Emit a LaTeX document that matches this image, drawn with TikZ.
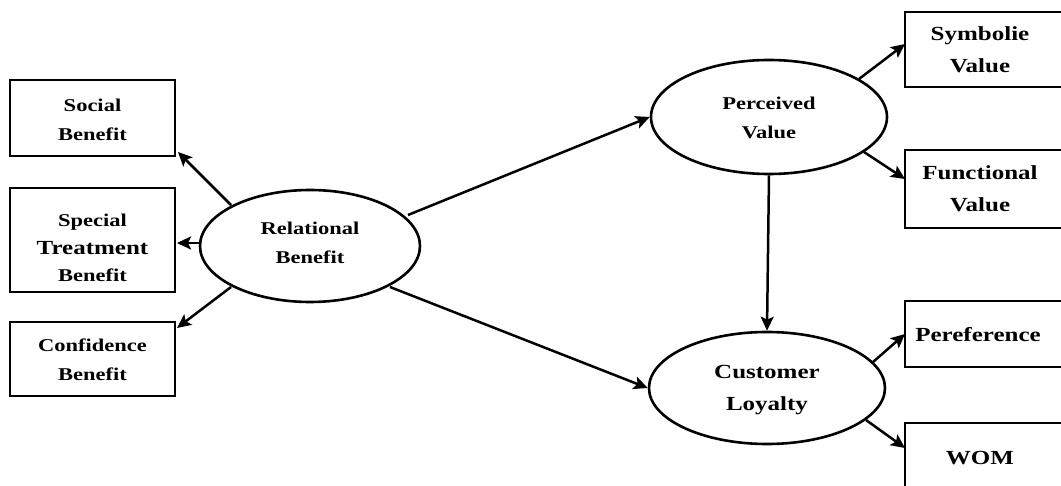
\documentclass[tikz,border=0pt]{standalone}
\usepackage{fontspec}
\setmainfont{Liberation Serif}[FakeStretch=1.25]
\usetikzlibrary{arrows.meta,shapes.geometric}
\begin{document}
\begin{tikzpicture}[x=1pt,y=-1pt,
  box/.style={draw=black,line width=2.4pt,fill=white},
  oval/.style={draw=black,line width=2.6pt,ellipse,inner sep=0pt,fill=white},
  lbl/.style={font=\bfseries\fontsize{18}{29}\selectfont,align=center},
  biglbl/.style={font=\bfseries\fontsize{20}{32}\selectfont,align=center},
  link/.style={line width=2.5pt,-{Stealth[length=14pt,width=13pt,inset=3pt]}}]
\useasboundingbox (0,0) rectangle (1061,486);
\begin{scope}
\clip (0,0) rectangle (1061,486);
% indicator boxes on the left
\draw[box] (10,80) rectangle (175,156);
\draw[box] (10,188) rectangle (175,292);
\draw[box] (10,322) rectangle (175,396);
% indicator boxes on the right, running off the edge
\draw[box] (905,12) rectangle (1075,87);
\draw[box] (905,150) rectangle (1075,228);
\draw[box] (905,301) rectangle (1075,367);
\draw[box] (905,423) rectangle (1075,500);
\end{scope}
% arrow ends at the boxes
\coordinate (sb) at (178,152);
\coordinate (st) at (177,243);
\coordinate (cb) at (177,328);
\coordinate (sv) at (905,44);
\coordinate (fv) at (905,179);
\coordinate (pf) at (905,334);
\coordinate (wm) at (905,448);
% text of the boxes
\node[lbl] (tsb) at (92.5,120) {Social\\Benefit};
\node[lbl,align=center] (tst) at (92.5,248) {\fontsize{18}{28}\selectfont Special\\[-1pt]\fontsize{20}{24}\selectfont Treatment\\[-2pt]\fontsize{18}{22}\selectfont Benefit};
\node[lbl] (tcb) at (92.5,360) {Confidence\\Benefit};
\node[biglbl] (tsv) at (980,50) {Symbolie\\Value};
\node[biglbl] (tfv) at (980,189) {Functional\\Value};
\node[biglbl] (tpf) at (978,335) {Pereference};
\node[biglbl] (twm) at (980,458) {WOM};
% latent variables
\node[oval,minimum width=220pt,minimum height=112pt] (rb) at (310,246) {};
\node[lbl] (trb) at ([yshift=3pt]rb.center) {Relational\\Benefit};
\node[oval,minimum width=236pt,minimum height=114pt] (pv) at (769,117) {};
\node[lbl] (tpv) at ([yshift=-1pt]pv.center) {Perceived\\Value};
\node[oval,minimum width=236pt,minimum height=112pt] (cl) at (767,388) {};
\node[biglbl] (tcl) at ([yshift=-2pt]cl.center) {Customer\\Loyalty};
% arrow starts on the ellipses
\coordinate (rb1) at (231,205);
\coordinate (rb2) at (201,243);
\coordinate (rb3) at (231,287);
\coordinate (rb4) at (408,215);
\coordinate (rb5) at (390,287);
\coordinate (pv1) at (859,79);
\coordinate (pv2) at (864,152);
\coordinate (cl1) at (873,362);
\coordinate (cl2) at (866,420);
% paths
\draw[link] (rb1) -- (sb);
\draw[link] (rb2) -- (st);
\draw[link] (rb3) -- (cb);
\draw[link] (rb4) -- (pv.west);
\draw[link] (rb5) -- (cl.west);
\draw[link] (pv.south) -- (cl.north);
\draw[link] (pv1) -- (sv);
\draw[link] (pv2) -- (fv);
\draw[link] (cl1) -- (pf);
\draw[link] (cl2) -- (wm);
\end{tikzpicture}
\end{document}
